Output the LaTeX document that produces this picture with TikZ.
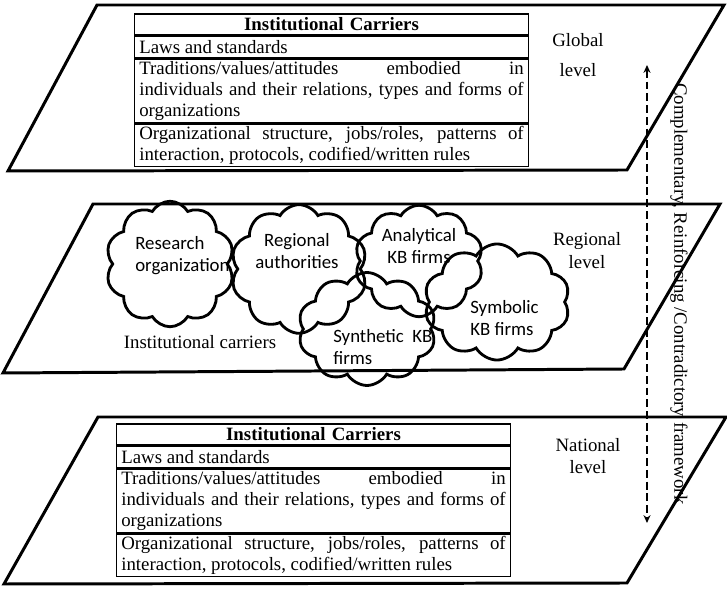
\documentclass[tikz,border=0pt]{standalone}
\usepackage{fontspec}
\setmainfont{Liberation Serif}
\newfontfamily\cldfont{Carlito}
\usepackage{tikz}
\usetikzlibrary{shapes,arrows.meta,positioning,calc}

\begin{document}
\begin{tikzpicture}[x=0.0224cm,y=-0.0224cm,
        plane/.style={draw,line width=1.9pt},
        cell/.style={draw,line width=1pt,text width=245pt,inner xsep=3pt,
                     inner ysep=1pt,align=justify,anchor=north,
                     font=\fontsize{12}{13.1}\selectfont},
        hd/.style={cell,align=center,
                   font=\fontsize{12}{13.1}\selectfont\bfseries},
        cld/.style={cloud,draw,line width=1.8pt,cloud puffs=10,
                    cloud puff arc=120,cloud ignores aspect,inner sep=0pt},
        cldtxt/.style={font=\cldfont\fontsize{12}{14}\selectfont,inner sep=0pt},
        lbl/.style={font=\fontsize{12}{13.1}\selectfont,align=center,
                    inner sep=0pt}]
        \useasboundingbox (0,0) rectangle (727,591);
        % the three levels
        \draw[plane] (97,5) -- (724,5) -- (627,170) -- (8,171) -- cycle;
        \draw[plane] (93,204) -- (720,204) -- (624,369) -- (3,373) -- cycle;
        \draw[plane] (98,417) -- (726,417) -- (627,583) -- (4,584) -- cycle;
        % carrier tables, global and national
        \foreach \t/\cx/\ty in {g/331.5/13,n/313.5/423}{
          \node[hd,minimum height=13.4pt] (\t-head) at (\cx,\ty)
            {Institutional Carriers};
          \node[cell,minimum height=13.4pt,below=0pt of \t-head] (\t-laws)
            {Laws and standards};
          \node[cell,minimum height=40.8pt,below=0pt of \t-laws] (\t-trad)
            {Traditions/values/attitudes embodied in\linebreak
             individuals and their relations, types and forms of\linebreak
             organizations};
          \node[cell,minimum height=26.8pt,below=0pt of \t-trad] (\t-org)
            {Organizational structure, jobs/roles, patterns of\linebreak
             interaction, protocols, codified/written rules};
        }
        % regional clouds
        \node[cld,minimum width=82pt,minimum height=80pt] (cResearch)   at (170,264) {};
        \node[cld,minimum width=87pt,minimum height=82pt] (cRegional)   at (299,269) {};
        \node[cld,minimum width=82pt,minimum height=71pt] (cAnalytical) at (419,261) {};
        \node[cld,minimum width=93pt,minimum height=74pt] (cSymbolic)   at (497,302) {};
        \node[cld,minimum width=88pt,minimum height=72pt] (cSynthetic)  at (367,329) {};
        \node[cldtxt,align=left,anchor=west] (tResearch) at (135,256)
          {Research\\organization};
        \node[cldtxt,align=center] (tRegional) at (297,251)
          {Regional\\authorities};
        \node[cldtxt,align=center] (tAnalytical) at (419,246)
          {Analytical\\KB firms};
        \node[cldtxt,align=left,anchor=west] (tSymbolic) at (470,318)
          {Symbolic\\KB firms};
        \node[cldtxt,align=left,anchor=west] (tSynthetic) at (333,347)
          {Synthetic\hspace{0.45em}KB\\firms};
        \node[lbl] (tCarriers) at (200,342) {Institutional carriers};
        % level names
        \node[lbl] (lGlobal)   at (578,55)  {Global\\[6pt]level};
        \node[lbl] (lRegional) at (587,251) {Regional\\[1.5pt]level};
        \node[lbl] (lNational) at (588,456) {National\\[1pt]level};
        % framework arrow
        \coordinate (aTop) at (647,65);
        \coordinate (aBot) at (647,523);
        \draw[{Stealth[length=5pt,width=4.5pt]}-{Stealth[length=5pt,width=4.5pt]},
              line width=1.6pt,dash pattern=on 5pt off 2.5pt] (aTop) -- (aBot);
        \node[lbl,rotate=-90] (tFrame) at (679,294)
          {Complementary, Reinforcing /Contradictory framework};
      \end{tikzpicture}
\end{document}
